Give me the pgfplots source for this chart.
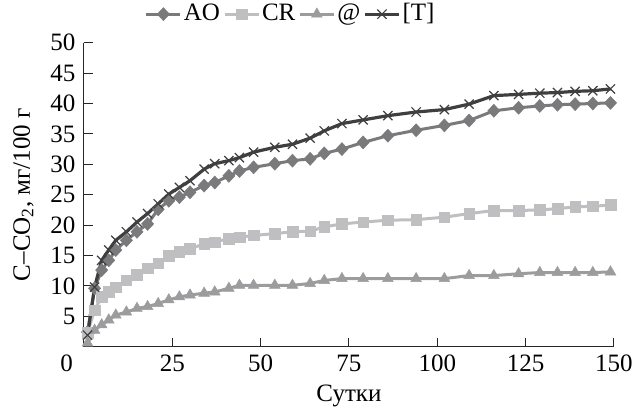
\documentclass[border=0pt]{standalone}
\usepackage{fontspec}
\setmainfont{Liberation Serif}
\usepackage{pgfplots}
\pgfplotsset{compat=1.18}

\definecolor{cAO}{HTML}{7A7A7C}
\definecolor{cCR}{HTML}{BFBFC2}
\definecolor{cAt}{HTML}{9C9C9E}
\definecolor{cT}{HTML}{3F3F3F}

\begin{document}
\fontsize{25}{29}\selectfont
\begin{tikzpicture}
\useasboundingbox (-84pt,-61.3pt) rectangle (549pt,346.7pt);
\begin{axis}[
  at={(0,0)}, anchor=south west,
  width=530pt, height=304pt, scale only axis,
  xmin=0, xmax=150, ymin=0, ymax=50,
  axis x line=bottom, axis y line=left,
  axis line style={-, line width=1pt, black!85},
  xtick={0,25,...,150},
  xticklabels={\makebox[0pt][r]{0\hspace*{11pt}},25,50,75,100,125,150},
  ytick={5,10,...,50},
  tick align=inside,
  major tick length=9pt,
  tick style={line width=1pt, black!85},
  /pgf/number format/assume math mode=true,
  xlabel={Сутки},
  ylabel={C--CO\textsubscript{2}, мг/100 г},
  xlabel style={yshift=4pt},
  clip=false,
  legend style={draw=none, fill=none, at={(axis description cs:0.39,1.094)}, anchor=center,
    font=\fontsize{25}{29}\selectfont, inner sep=0pt},
  legend columns=4,
  legend cell align=left,
  /tikz/every even column/.append style={column sep=1pt},
  legend image code/.code={\draw[mark repeat=2,mark phase=2,#1] plot coordinates {(0pt,0pt) (17pt,0pt) (34pt,0pt)};},
]
\addplot[cAO, line width=3pt, mark=diamond*, mark size=6.5pt, mark options={solid, fill=cAO, line width=0.5pt, xscale=1.25}] coordinates {
(1,2.4) (3,9.6) (5,12.6) (7,14.2) (9,15.9) (12,17.5) (15,18.9) (18,20.2) (21,22.6) (24,24.0)
(27,24.6) (30,25.4) (34,26.5) (37,27.0) (41,28.1) (44,28.9) (48,29.5) (54,30.1) (59,30.6) (64,30.9)
(68,31.8) (73,32.5) (79,33.6) (86,34.7) (94,35.6) (102,36.4) (109,37.2) (116,38.8) (123,39.3) (129,39.6)
(134,39.8) (139,39.9) (144,40.0) (149,40.1)
};
\addlegendentry{AO}
\addplot[cCR, line width=3pt, mark=square*, mark size=5.3pt, mark options={solid, fill=cCR, line width=0.5pt}] coordinates {
(1,2.3) (3,6.0) (5,8.2) (7,9.0) (9,9.8) (12,10.9) (15,11.8) (18,12.9) (21,13.7) (24,15.0)
(27,15.6) (30,16.1) (34,16.9) (37,17.2) (41,17.8) (44,18.0) (48,18.3) (54,18.6) (59,18.9) (64,19.0)
(68,19.7) (73,20.2) (79,20.5) (86,20.8) (94,20.9) (102,21.3) (109,21.9) (116,22.4) (123,22.4) (129,22.5)
(134,22.7) (139,23.0) (144,23.1) (149,23.3)
};
\addlegendentry{CR}
\addplot[cAt, line width=3pt, mark=triangle*, mark size=6.2pt, mark options={solid, fill=cAt, line width=0.5pt}] coordinates {
(1,0.6) (3,2.7) (5,3.6) (7,4.4) (9,5.2) (12,5.7) (15,6.3) (18,6.6) (21,7.1) (24,7.7)
(27,8.2) (30,8.5) (34,8.8) (37,9.0) (41,9.6) (44,10.1) (48,10.1) (54,10.1) (59,10.1) (64,10.4)
(68,10.9) (73,11.2) (79,11.2) (86,11.2) (94,11.2) (102,11.2) (109,11.7) (116,11.7) (123,12.0) (129,12.2)
(134,12.2) (139,12.2) (144,12.2) (149,12.3)
};
\addlegendentry{@}
\addplot[cT, line width=3.2pt, mark=x, mark size=6.5pt, mark options={solid, line width=1.2pt}] coordinates {
(1,1.9) (3,9.8) (5,14.2) (7,15.9) (9,17.5) (12,18.9) (15,20.5) (18,21.9) (21,23.5) (24,25.1)
(27,26.2) (30,27.3) (34,29.2) (37,30.1) (41,30.6) (44,31.1) (48,32.0) (54,32.8) (59,33.3) (64,34.3)
(68,35.5) (73,36.7) (79,37.3) (86,38.0) (94,38.6) (102,39.0) (109,39.9) (116,41.3) (123,41.5) (129,41.7)
(134,41.8) (139,42.0) (144,42.1) (149,42.4)
};
\addlegendentry{[T]}
\end{axis}
\end{tikzpicture}
\end{document}
